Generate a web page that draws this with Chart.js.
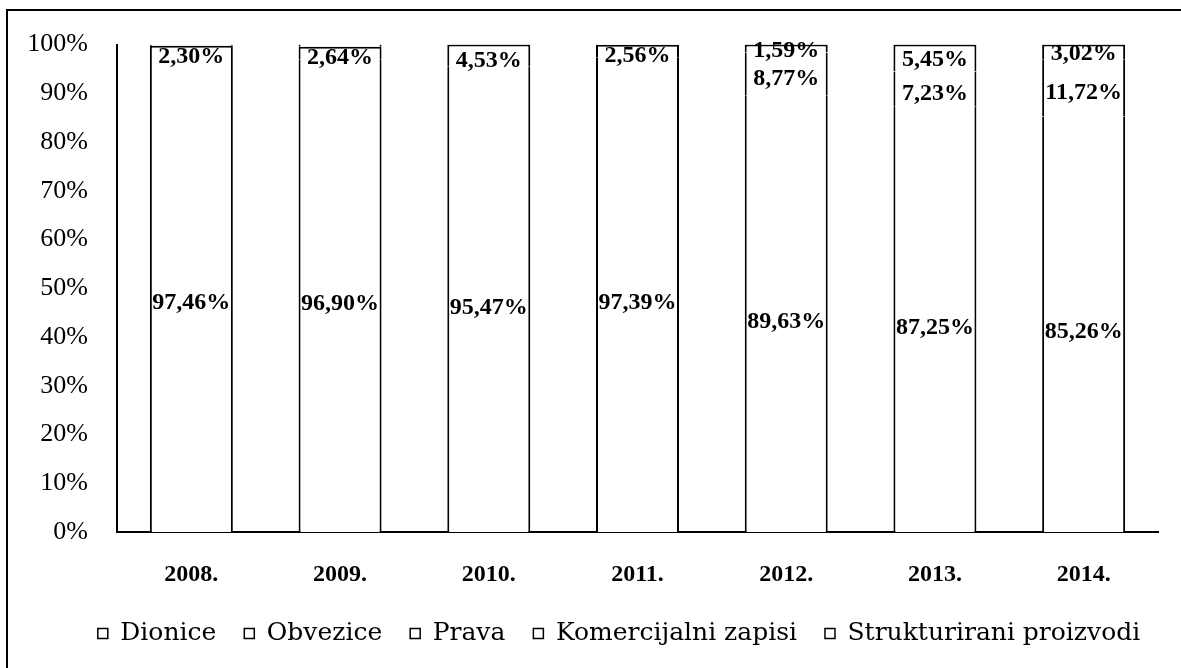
<!DOCTYPE html>
<html>
<head>
<meta charset="utf-8">
<script src="https://cdn.jsdelivr.net/npm/chart.js@4/dist/chart.umd.min.js"></script>
<style>
	body { margin: 0; background: #fff; }
	#wrap { position: relative; width: 1181px; height: 668px; }
	#frame { position: absolute; left: 6px; top: 9px; right: -5px; bottom: -5px; border-left: 2px solid #000; border-top: 2px solid #000; }
</style>
</head>
<body>
<div id="wrap">
	<div id="frame"></div>
	<canvas id="struct-chart" width="1181" height="668"></canvas>
</div>
<script>
//data of the chart (shares of turnover, %)
let years = ["2008.", "2009.", "2010.", "2011.", "2012.", "2013.", "2014."];
let seriesNames = ["Dionice", "Obvezice", "Prava", "Komercijalni zapisi", "Strukturirani proizvodi"];
let dionice = [97.46, 96.90, 95.47, 97.39, 89.63, 87.25, 85.26];
let obvezice = [2.30, 2.64, 4.53, 2.56, 8.77, 7.23, 11.72];
let prava = [0.24, 0.46, 0, 0.05, 0.01, 0.07, 0];
let komercijalni = [0, 0, 0, 0, 1.59, 5.45, 3.02];
let strukturirani = [0, 0, 0, 0, 0, 0, 0];
let yTicks = [0, 10, 20, 30, 40, 50, 60, 70, 80, 90, 100];

let allSeries = [dionice, obvezice, prava, komercijalni, strukturirani];
let labelNudge = [8, 5, 0, 2, 0]; //px the value labels sit below the segment centre
let serif = "'Liberation Serif', 'DejaVu Serif', serif";
let legendFont = "'DejaVu Serif', serif";

//top visible segment of each year gets the top border
function topIndex(i) {
	let top = 0;
	allSeries.forEach((s, k) => { if (s[i] >= 1) top = k; });
	return top;
}

//value labels inside the segments
let valueLabels = {
	id: "valueLabels",
	afterDatasetsDraw(chart) {
		let c = chart.ctx;
		c.save();
		c.fillStyle = "#000";
		c.font = "bold 24px " + serif;
		c.textAlign = "center";
		c.textBaseline = "middle";
		chart.data.datasets.forEach((ds, d) => {
			chart.getDatasetMeta(d).data.forEach((el, i) => {
				let v = ds.data[i];
				if (v < 1) return;
				let y = (el.y + el.base) / 2 + labelNudge[d];
				c.fillText(v.toFixed(2).replace(".", ",") + "%", el.x, y);
			});
		});
		c.restore();
	}
};

//legend sits a bit right of the canvas centre in the original
let legendShift = {
	id: "legendShift",
	afterLayout(chart) {
		chart.legend.left += 40;
		chart.legend.right += 40;
	}
};

let datasets = seriesNames.map((name, k) => ({
	label: name,
	data: allSeries[k],
	backgroundColor: "#fff",
	borderColor: "#000",
	borderSkipped: false,
	borderWidth: (ctx) => {
		let v = ctx.raw;
		if (!v) return 0;
		return { left: 2, right: 2, bottom: 0, top: topIndex(ctx.dataIndex) === ctx.datasetIndex ? 2 : 0 };
	},
	categoryPercentage: 1,
	barPercentage: 0.558,
}));

let structChart = new Chart(document.getElementById("struct-chart"), {
	type: "bar",
	data: { labels: years, datasets: datasets },
	plugins: [valueLabels, legendShift],
	options: {
		responsive: false,
		animation: false,
		layout: { padding: { top: 36, right: 23, bottom: 12, left: 0 } },
		plugins: {
			tooltip: { enabled: false },
			legend: {
				position: "bottom",
				labels: {
					color: "#000",
					font: { family: legendFont, size: 25 },
					boxWidth: 10,
					boxHeight: 10,
					padding: 28,
					generateLabels: (chart) => chart.data.datasets.map((ds, k) => ({
						text: ds.label,
						fillStyle: "#fff",
						strokeStyle: "#000",
						lineWidth: 1.5,
						hidden: false,
						datasetIndex: k,
					})),
				},
			},
		},
		scales: {
			x: {
				stacked: true,
				grid: { display: false, drawTicks: false },
				border: { color: "#000", width: 2 },
				ticks: { color: "#000", font: { family: serif, size: 24, weight: "bold" }, padding: 28 },
				afterFit: (s) => { s.height = 61; },
			},
			y: {
				stacked: true,
				min: 0,
				max: 100,
				afterBuildTicks: (s) => { s.ticks = yTicks.map((v) => ({ value: v })); },
				grid: { display: false, drawTicks: false },
				border: { color: "#000", width: 2 },
				ticks: {
					color: "#000",
					font: { family: serif, size: 26 },
					padding: 29,
					callback: (v) => v + "%",
				},
				afterFit: (s) => { s.width = 117; },
			},
		},
	},
});
</script>
</body>
</html>
